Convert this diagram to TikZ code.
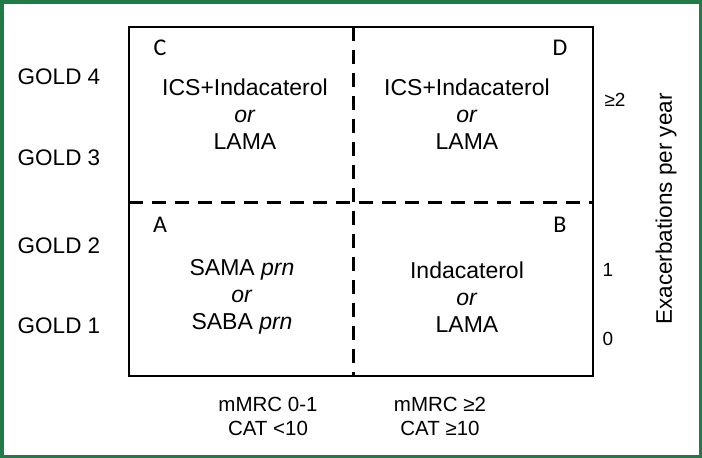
\documentclass[tikz,border=0pt]{standalone}
\usepackage{fontspec}
\setmainfont{Liberation Sans}
\newfontfamily\letterfont{Carlito}
\usetikzlibrary{positioning}
\definecolor{framegreen}{RGB}{34,122,72}

\begin{document}
\begin{tikzpicture}[x=1pt,y=-1pt,
		grid/.style={line width=2pt},
		split/.style={line width=3pt,dash pattern=on 14pt off 9pt},
		therapy/.style={font=\fontsize{23}{27}\selectfont,align=center,inner sep=0pt},
		gold/.style={font=\fontsize{22.5}{26}\selectfont,inner sep=0pt},
		corner/.style={font=\letterfont\fontsize{24}{26}\selectfont,inner sep=0pt},
		tick/.style={font=\fontsize{19}{22}\selectfont,inner sep=0pt},
		axis/.style={font=\fontsize{20.5}{24}\selectfont,align=center,inner sep=0pt}]
		\useasboundingbox (0,0) rectangle (702,458);
		\draw[framegreen,line width=3.5pt] (1.75,1.75) rectangle (700.25,456.25);
		
		\coordinate (nw) at (129,27);
		\coordinate (se) at (593,376);
		\coordinate (top) at (353,27);
		\coordinate (bottom) at (353,376);
		\coordinate (left) at (129,202);
		\coordinate (right) at (593,202);
		\draw[grid] (nw) rectangle (se);
		\draw[split] (top) -- (bottom);
		\draw[split] (left) -- (right);
		
		\node[corner] (C) at (160,48) {C};
		\node[corner] (D) at (560,48) {D};
		\node[corner] (A) at (160,225) {A};
		\node[corner] (B) at (560,225) {B};
		
		\node[therapy] (qC) at (245,114) {ICS+Indacaterol\\\textit{or}\\LAMA};
		\node[therapy] (qD) at (467,114) {ICS+Indacaterol\\\textit{or}\\LAMA};
		\node[therapy] (qA) at (242,297) {SAMA \textit{prn}\\\textit{or}\\SABA \textit{prn}};
		\node[therapy] (qB) at (467,297) {Indacaterol\\\textit{or}\\LAMA};
		
		\node[gold] (g4) at (59,77) {GOLD 4};
		\node[gold] (g3) at (59,158) {GOLD 3};
		\node[gold] (g2) at (59,246) {GOLD 2};
		\node[gold] (g1) at (59,326) {GOLD 1};
		
		\node[tick] (e2) at (615,100) {≥2};
		\node[tick] (e1) at (608,270) {1};
		\node[tick] (e0) at (608,339) {0};
		\node[gold,rotate=90] (exac) at (666,209) {Exacerbations per year};
		
		\node[axis] (low) at (268,416) {mMRC 0-1\\CAT <10};
		\node[axis] (high) at (440,416) {mMRC ≥2\\CAT ≥10};
\end{tikzpicture}
\end{document}
